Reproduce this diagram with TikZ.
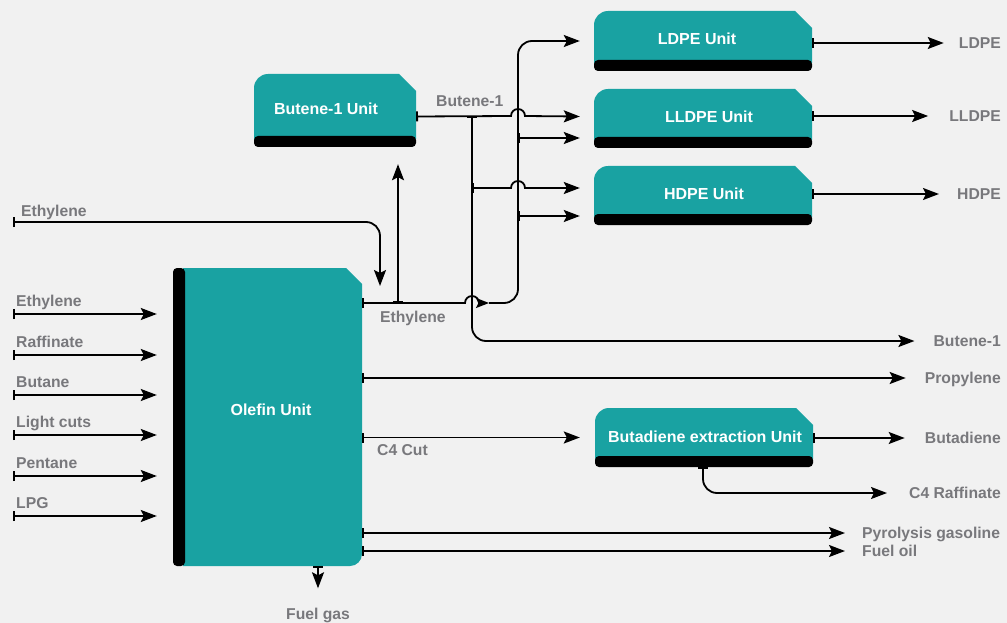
\documentclass[tikz,border=0pt]{standalone}
\usepackage{fontspec}
\setmainfont{Liberation Sans}
\usetikzlibrary{arrows.meta,calc}
\definecolor{unitteal}{RGB}{25,162,162}
\definecolor{labelgray}{RGB}{120,120,124}
\definecolor{paper}{RGB}{241,241,241}
\newcommand{\hopr}{7}

% unit box: name, x1, y1, x2, y2, text x, text y, text
\newcommand{\unitbox}[8]{%
  \fill[unitteal] (#2,#5-8) -- (#2,#3+14) arc[start angle=180, end angle=270, radius=14]
    -- (#4-17,#3) -- (#4,#3+17) -- (#4,#5-8) -- cycle;
  \fill[black, rounded corners=4] (#2,#5-11) rectangle (#4,#5);
  \node[box, minimum width=#4-#2, minimum height=#5-#3] (#1) at ({(#2+#4)/2},{(#3+#5)/2}) {};
  \node[unittext] (#1text) at (#6,#7) {#8};
}

\begin{document}
\begin{tikzpicture}[x=1pt, y=-1pt,
    pbar/.tip={Bar[width=10pt]},
    phead/.tip={Stealth[length=16pt, width=12pt, inset=3pt]},
    psmall/.tip={Stealth[length=13pt, width=10pt, inset=2.5pt]},
    box/.style={inner sep=0pt, draw=none},
    unittext/.style={text=white, inner sep=0pt, text height=11.5pt, text depth=0pt,
      font=\fontsize{16}{19}\selectfont\bfseries},
    flowlabel/.style={text=labelgray, inner sep=0pt, text height=11pt, text depth=0pt,
      font=\fontsize{15.7}{19}\selectfont\bfseries},
    pipe/.style={line width=1.8pt},
    roundturn/.style={rounded corners=14}]
        \useasboundingbox (0,0) rectangle (1007,623);
        \fill[paper] (0,0) rectangle (1007,623);

        % olefin unit
        \fill[unitteal] (183,268) -- (346,268) -- (362,284) -- (362,554)
            arc[start angle=0, end angle=90, radius=12] -- (183,566) -- cycle;
        \fill[black, rounded corners=4] (173,268) rectangle (185,566);
        \node[box, minimum width=189, minimum height=298] (olefin) at (267.5,417) {};
        \node[unittext] (olefintext) at (271,410) {Olefin Unit};

        % other units
        \unitbox{ldpe}{594}{11}{812}{71}{697}{39}{LDPE Unit}
        \unitbox{lldpe}{594}{89}{812}{148}{709}{117}{LLDPE Unit}
        \unitbox{hdpe}{594}{166}{812}{225}{704}{194}{HDPE Unit}
        \unitbox{butene}{254}{74}{416}{147}{326}{109}{Butene-1 Unit}
        \unitbox{butadiene}{595}{408}{813}{467}{705}{437}{Butadiene extraction Unit}

        % product labels
        \node[flowlabel, anchor=east] (outldpe) at (1001,43) {LDPE};
        \node[flowlabel, anchor=east] (outlldpe) at (1001,116) {LLDPE};
        \node[flowlabel, anchor=east] (outhdpe) at (1001,194) {HDPE};
        \node[flowlabel, anchor=east] (outbutene) at (1001,341) {Butene-1};
        \node[flowlabel, anchor=east] (outprop) at (1001,378) {Propylene};
        \node[flowlabel, anchor=east] (outbutadiene) at (1001,438) {Butadiene};
        \node[flowlabel, anchor=east] (outraff) at (1001,493) {C4 Raffinate};
        \node[flowlabel, anchor=west] (outpyro) at (862,533) {Pyrolysis gasoline};
        \node[flowlabel, anchor=west] (outfuel) at (862,551) {Fuel oil};

        % stream labels
        \node[flowlabel, anchor=west] (ethtop) at (21,211) {Ethylene};
        \node[flowlabel, anchor=west] (ethlabel) at (380,317) {Ethylene};
        \node[flowlabel, anchor=west] (butlabel) at (436,101) {Butene-1};
        \node[flowlabel, anchor=west] (c4label) at (377,450) {C4 Cut};
        \node[flowlabel] (fuelgas) at (318,614) {Fuel gas};

        % feeds into olefin unit
        \foreach \y/\name [count=\i] in {314/Ethylene, 355/Raffinate, 395/Butane, 435/Light cuts, 476/Pentane, 516/LPG}{
            \coordinate (in\i) at (13,\y);
            \node[flowlabel, anchor=west] (inlabel\i) at (16,\y-13) {\name};
            \draw[pipe, arrows=pbar-phead] (in\i) -- ([xshift=-16]olefin.west |- in\i);
        }

        \coordinate (ethin) at (13,222);
        \coordinate (ethdrop) at (380,286);
        \draw[pipe, roundturn, arrows=pbar-phead] (ethin) -| (ethdrop);

        % olefin outputs
        \draw[pipe, arrows=pbar-phead] (olefin.east |- outprop.west) -- ([xshift=-19]outprop.west);
        \draw[pipe, arrows=pbar-phead] (olefin.east |- butadiene.west) -- ([xshift=-15]butadiene.west);
        \draw[pipe, arrows=pbar-phead] (olefin.east |- outpyro.west) -- ([xshift=-17]outpyro.west);
        \draw[pipe, arrows=pbar-phead] (olefin.east |- outfuel.west) -- ([xshift=-17]outfuel.west);
        \draw[pipe, arrows=pbar-phead] (olefin.south -| fuelgas) -- ([yshift=20]fuelgas.north);

        % ethylene line
        \coordinate (ethout) at (362,303);
        \coordinate (ethmid) at (489,303);
        \coordinate (ethriser) at (518,303);
        \coordinate (ethup) at (398,303);
        \draw[pipe, arrows=pbar-psmall] (ethout) -- (472-\hopr,303)
            arc[start angle=180, end angle=360, radius=\hopr] -- (ethmid);
        \draw[pipe, roundturn, arrows=-phead] (ethmid) -- (ethriser) |- ([xshift=-14]ldpe.west);
        \draw[pipe, arrows=pbar-phead] (ethup) -- ([yshift=-17]butene.south -| ethup);
        \coordinate (ethbranchA) at (518,138);
        \coordinate (ethbranchB) at (518,216);
        \draw[pipe, arrows=pbar-phead] (ethbranchA) -- ([xshift=-14]lldpe.west |- ethbranchA);
        \draw[pipe, arrows=pbar-phead] (ethbranchB) -- ([xshift=-14]hdpe.west |- ethbranchB);

        % butene-1 line
        \coordinate (buout) at ([yshift=-6]butene.east);
        \coordinate (busplit) at (472,116);
        \coordinate (bubranch) at (472,188);
        \draw[pipe, arrows=pbar-phead] (buout) -- (518-\hopr,116)
            arc[start angle=180, end angle=360, radius=\hopr] -- ([xshift=-14]lldpe.west |- buout);
        \draw[pipe, arrows=pbar-phead] (bubranch) -- (518-\hopr,188)
            arc[start angle=180, end angle=360, radius=\hopr] -- ([xshift=-14]hdpe.west |- bubranch);
        \draw[pipe, roundturn, arrows=pbar-phead] (busplit) |- ([xshift=-19]outbutene.west);

        % unit products
        \draw[pipe, arrows=pbar-phead] (ldpe.east |- outldpe.west) -- ([xshift=-15]outldpe.west);
        \draw[pipe, arrows=pbar-phead] (lldpe.east |- outlldpe.west) -- ([xshift=-21]outlldpe.west);
        \draw[pipe, arrows=pbar-phead] (hdpe.east |- outhdpe.west) -- ([xshift=-18]outhdpe.west);
        \draw[pipe, arrows=pbar-phead] (butadiene.east |- outbutadiene.west) -- ([xshift=-20]outbutadiene.west);
        \draw[pipe, roundturn, arrows=pbar-phead] ([xshift=-1]butadiene.south) |- ([xshift=-22]outraff.west);
\end{tikzpicture}
\end{document}
